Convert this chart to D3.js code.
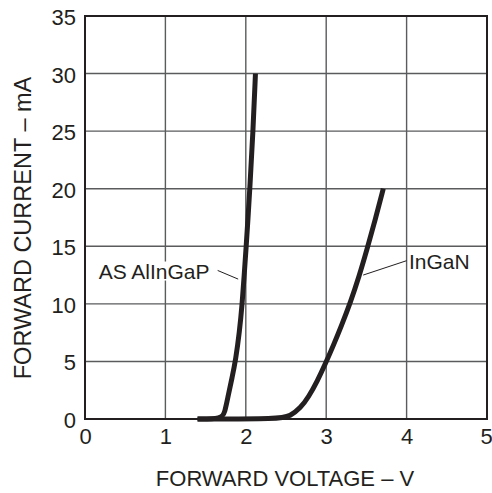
<!DOCTYPE html>
<html lang="en">
<head>
  <meta charset="UTF-8">
  <title>Forward current vs forward voltage</title>
  <script src="https://d3js.org/d3.v7.min.js"></script>
  <style>
    body { margin: 0; background: #fff; }
    text { font-family: "Liberation Sans", Arial, sans-serif; fill: #231f20; }
  </style>
</head>
<body>
  <script>
    var xTicks = [0, 1, 2, 3, 4, 5];
    var yTicks = [0, 5, 10, 15, 20, 25, 30, 35];

    // AS AlInGaP curve (volts, mA)
    var alingapV = [1.40, 1.70, 1.74, 1.78, 1.83, 1.875, 1.92, 1.955, 1.98, 2.005, 2.028, 2.05, 2.09, 2.12];
    var alingapI = [0,    0,    0.6,  2.0,  3.6,  5.2,   7.5,  10,    12.5, 15,    17.5,  20,   25,   30];

    // InGaN curve (volts, mA)
    var inganV = [1.40, 2.43, 2.55, 2.68, 2.78, 2.89, 2.99, 3.09, 3.19, 3.30, 3.41, 3.51, 3.61, 3.71];
    var inganI = [0,    0,    0.25, 0.95, 1.9,  3.3,  4.8,  6.4,  8.1,  10.1, 12.4, 14.8, 17.3, 20];

    var labelText = ["AS AlInGaP", "InGaN"];
    var labelAt = [[0.17, 12.2], [4.03, 13.0]];
    var leaderFrom = [[1.65, 12.9], [4.00, 13.75]];
    var leaderTo = [[1.905, 12.15], [3.46, 12.5]];

    var w = 492;
    var h = 493;
    var pLeft = 85, pRight = 487, pTop = 16, pBottom = 419;

    var xScale = d3.scaleLinear().domain([0, 5]).range([pLeft, pRight]);
    var yScale = d3.scaleLinear().domain([0, 35]).range([pBottom, pTop]);

    var svg = d3.select("body")
                .append("svg")
                .attr("width", w)
                .attr("height", h);

    // grid
    var grid = svg.append("g").attr("stroke", "#5a5b5d").attr("stroke-width", 1.4);
    grid.selectAll("line.v")
        .data(xTicks.slice(1, -1))
        .enter()
        .append("line")
        .attr("class", "v")
        .attr("x1", function(d) { return xScale(d); })
        .attr("x2", function(d) { return xScale(d); })
        .attr("y1", pTop)
        .attr("y2", pBottom);
    grid.selectAll("line.h")
        .data(yTicks.slice(1, -1))
        .enter()
        .append("line")
        .attr("class", "h")
        .attr("x1", pLeft)
        .attr("x2", pRight)
        .attr("y1", function(d) { return yScale(d); })
        .attr("y2", function(d) { return yScale(d); });

    // axes (labels only, frame drawn below)
    var xAxis = d3.axisBottom(xScale).tickValues(xTicks).tickFormat(d3.format("d")).tickSize(0).tickPadding(9);
    var yAxis = d3.axisLeft(yScale).tickValues(yTicks).tickFormat(d3.format("d")).tickSize(0).tickPadding(9);

    var gx = svg.append("g")
       .attr("transform", "translate(0," + pBottom + ")")
       .call(xAxis);
    var gy = svg.append("g")
       .attr("transform", "translate(" + pLeft + ",1.5)")
       .call(yAxis);
    [gx, gy].forEach(function(g) {
      g.select(".domain").remove();
      g.selectAll("text")
       .attr("fill", "#231f20")
       .style("font-size", "22px")
       .style("font-family", "'Liberation Sans', Arial, sans-serif");
    });
    // last x label sits against the right edge, as in the original
    gx.selectAll(".tick:last-of-type text").attr("dx", "-1px");

    // labels with leader lines
    var lbl = svg.append("g");
    lbl.selectAll("line")
       .data(leaderFrom)
       .enter()
       .append("line")
       .attr("x1", function(d) { return xScale(d[0]); })
       .attr("y1", function(d) { return yScale(d[1]); })
       .attr("x2", function(d, i) { return xScale(leaderTo[i][0]); })
       .attr("y2", function(d, i) { return yScale(leaderTo[i][1]); })
       .attr("stroke", "#231f20")
       .attr("stroke-width", 1);

    labelText.forEach(function(t, i) {
      var tx = lbl.append("text")
         .attr("x", xScale(labelAt[i][0]))
         .attr("y", yScale(labelAt[i][1]))
         .style("font-size", "21px")
         .text(t);
      var bb = tx.node().getBBox();
      lbl.insert("rect", "text")
         .attr("x", bb.x - 1)
         .attr("y", bb.y + 2)
         .attr("width", bb.width + 2)
         .attr("height", bb.height - 4)
         .attr("fill", "#fff");
    });

    // curves
    var line = d3.line()
                 .x(function(d) { return xScale(d[0]); })
                 .y(function(d) { return yScale(d[1]); })
                 .curve(d3.curveBasis);

    var series = [d3.zip(alingapV, alingapI), d3.zip(inganV, inganI)];
    svg.selectAll("path.curve")
       .data(series)
       .enter()
       .append("path")
       .attr("class", "curve")
       .attr("d", line)
       .attr("fill", "none")
       .attr("stroke", "#231f20")
       .attr("stroke-width", 5);

    // frame
    svg.append("rect")
       .attr("x", pLeft)
       .attr("y", pTop)
       .attr("width", pRight - pLeft)
       .attr("height", pBottom - pTop)
       .attr("fill", "none")
       .attr("stroke", "#231f20")
       .attr("stroke-width", 2);

    // axis titles
    svg.append("text")
       .attr("x", 285)
       .attr("y", 486)
       .attr("text-anchor", "middle")
       .style("font-size", "22px")
       .text("FORWARD VOLTAGE \u2013 V");

    svg.append("text")
       .attr("transform", "translate(31," + 228 + ") rotate(-90)")
       .attr("text-anchor", "middle")
       .style("font-size", "23.5px")
       .text("FORWARD CURRENT \u2013 mA");
  </script>
</body>
</html>
